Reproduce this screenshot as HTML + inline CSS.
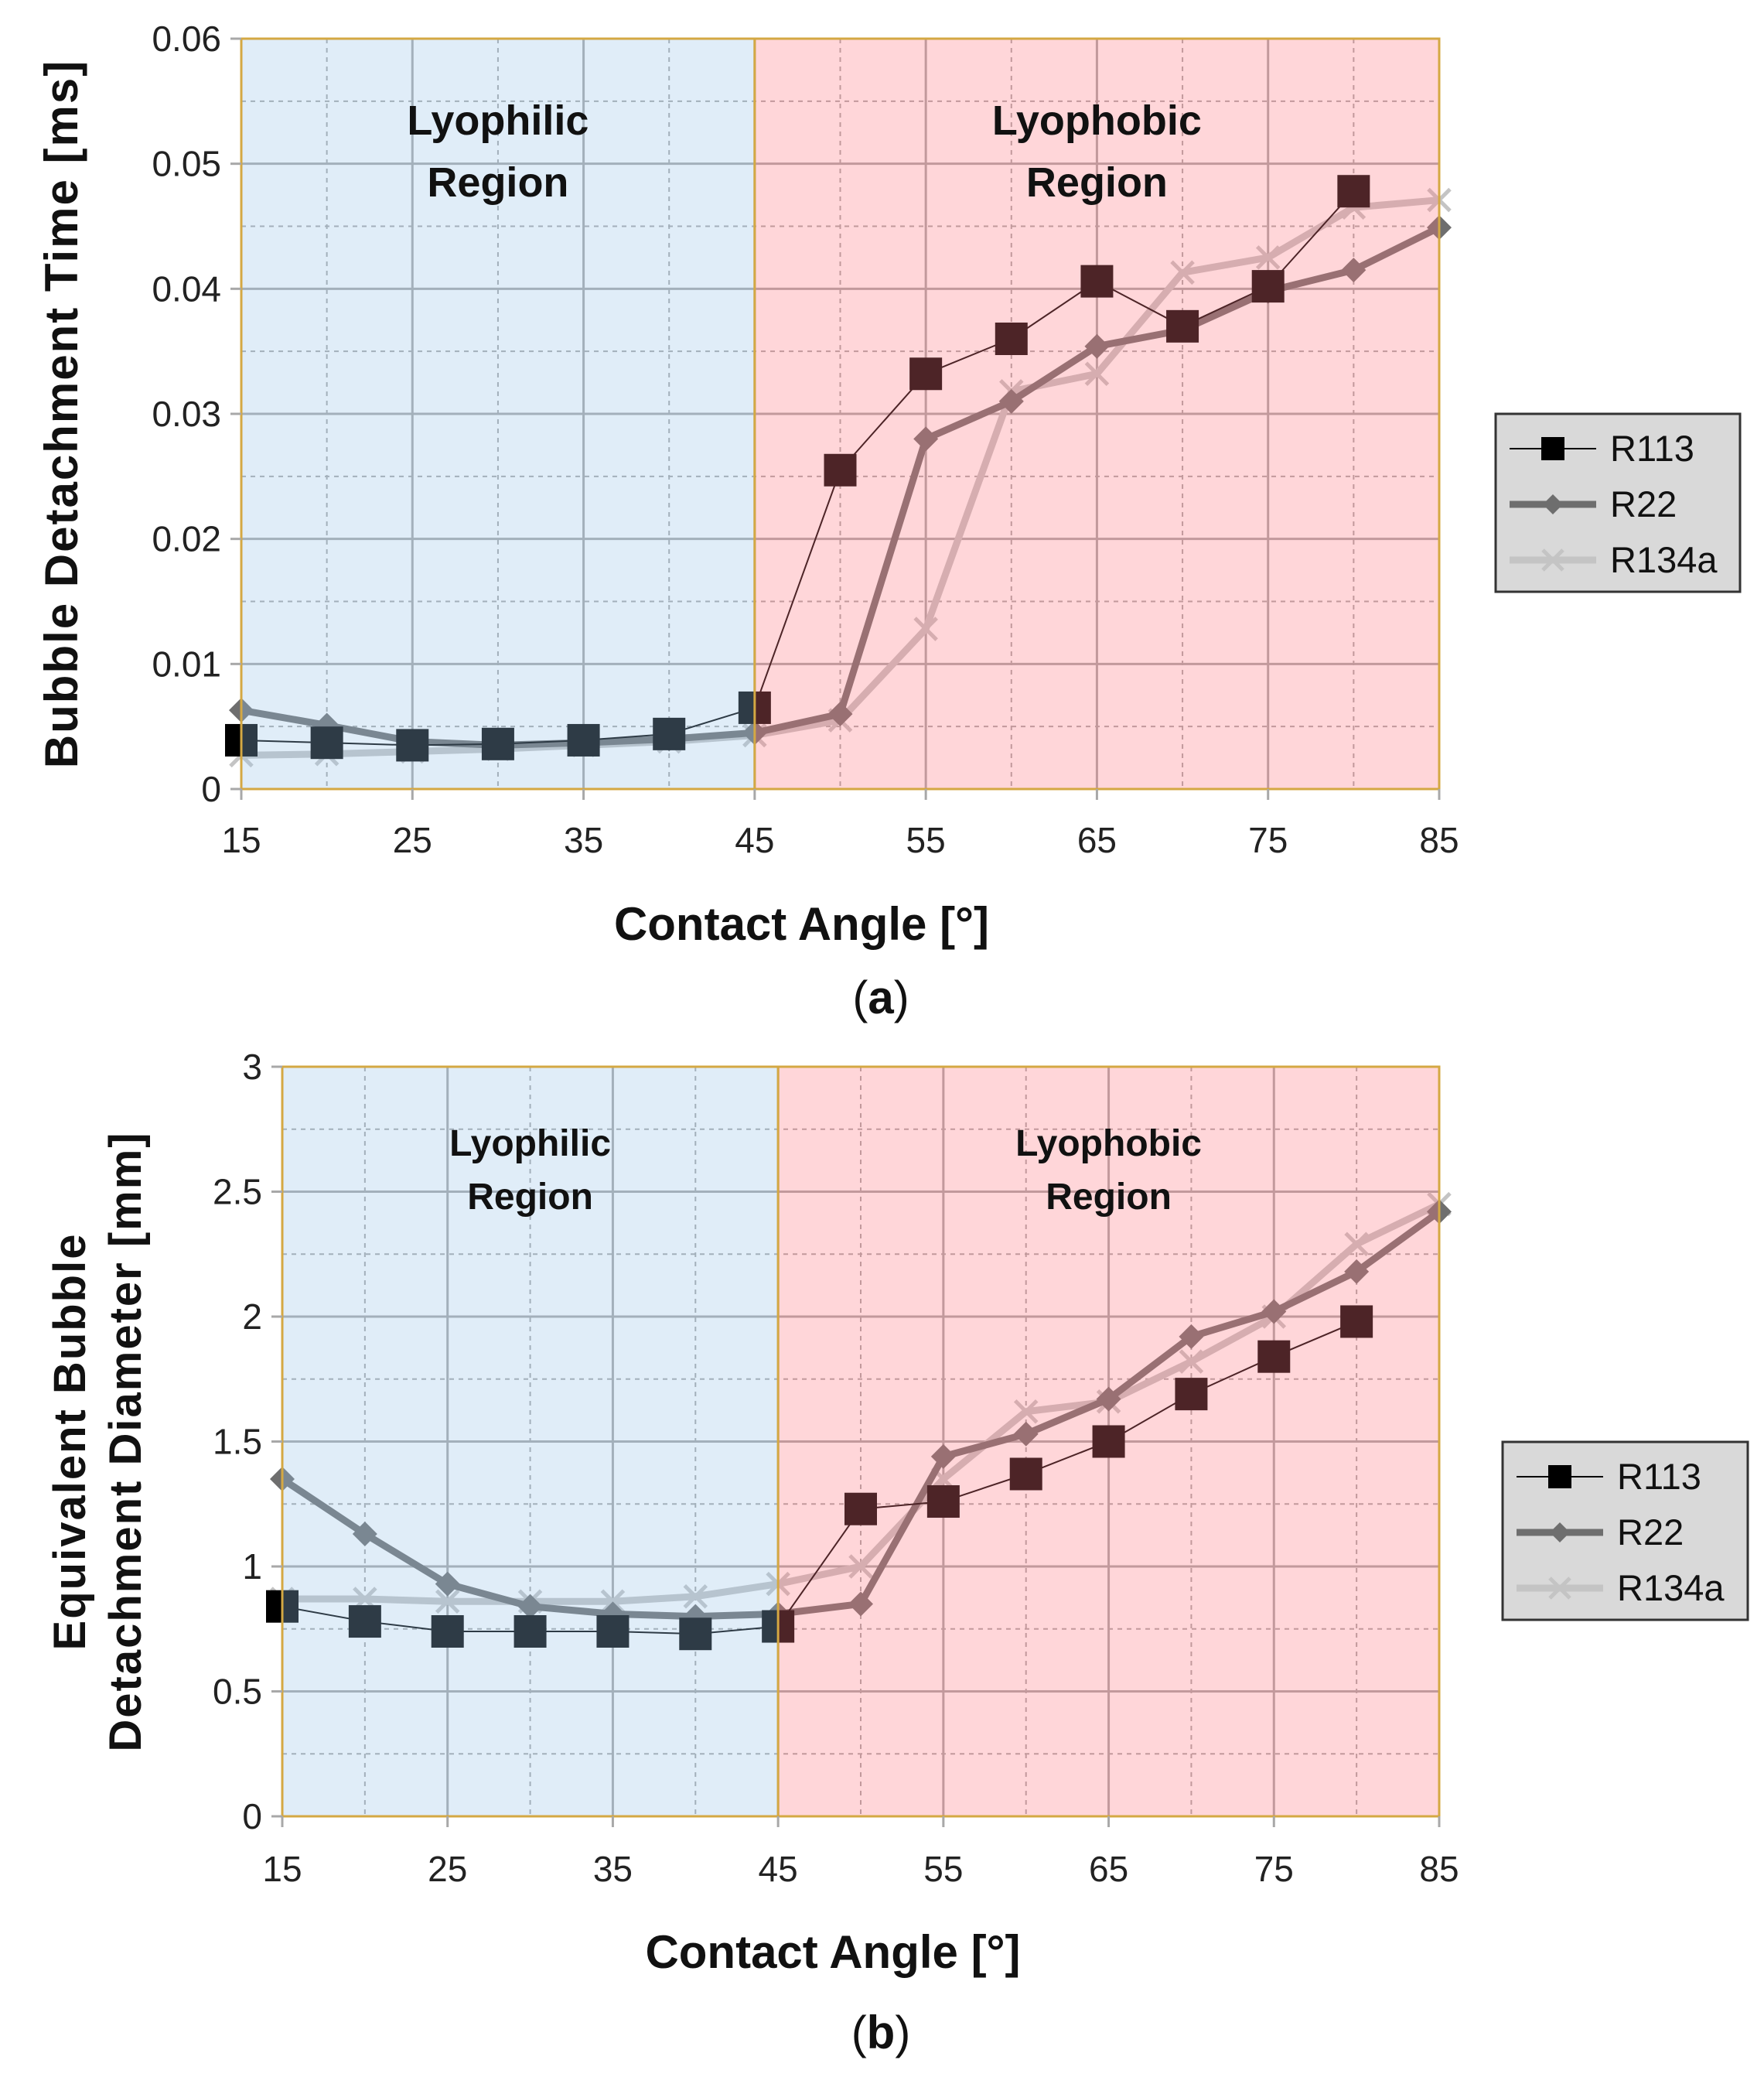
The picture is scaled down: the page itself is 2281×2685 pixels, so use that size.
<!DOCTYPE html>
<html><head><meta charset="utf-8"><style>
body{margin:0;background:#fff}
svg{display:block}
text{font-family:"Liberation Sans",sans-serif}
</style></head><body>
<svg id="fig" width="2281" height="2685" viewBox="0 0 2281 2685" xmlns="http://www.w3.org/2000/svg"></svg>
<script>
const angles=[15,20,25,30,35,40,45,50,55,60,65,70,75,80,85];
const xTicks=[15,25,35,45,55,65,75,85];
const seriesNames=["R113","R22","R134a"];
// chart a: bubble detachment time [ms]
const aR113=[0.0039,0.0037,0.0035,0.0036,0.0039,0.0044,0.0065,0.0255,0.0332,0.0360,0.0406,0.0370,0.0402,0.0478,null];
const aR22=[0.0063,0.0051,0.0038,0.0035,0.0037,0.0040,0.0045,0.0060,0.0280,0.0310,0.0354,0.0367,0.0398,0.0415,0.0449];
const aR134a=[0.0027,0.0028,0.0030,0.0032,0.0035,0.0038,0.0043,0.0055,0.0128,0.0318,0.0332,0.0413,0.0425,0.0465,0.0471];
const aYTicks=[0,0.01,0.02,0.03,0.04,0.05,0.06];
const aYLabels=["0","0.01","0.02","0.03","0.04","0.05","0.06"];
// chart b: equivalent detachment diameter [mm]
const bR113=[0.84,0.78,0.74,0.74,0.74,0.73,0.76,1.23,1.26,1.37,1.50,1.69,1.84,1.98,null];
const bR22=[1.35,1.13,0.93,0.84,0.81,0.80,0.81,0.85,1.44,1.53,1.67,1.92,2.02,2.18,2.42];
const bR134a=[0.87,0.87,0.86,0.86,0.86,0.88,0.93,1.00,1.35,1.62,1.66,1.82,2.00,2.29,2.45];
const bYTicks=[0,0.5,1,1.5,2,2.5,3];
const bYLabels=["0","0.5","1","1.5","2","2.5","3"];

const NS="http://www.w3.org/2000/svg";
const svg=document.getElementById('fig');
function el(tag,attrs,parent,txt){const e=document.createElementNS(NS,tag);for(const k in attrs)e.setAttribute(k,attrs[k]);if(txt!==undefined)e.textContent=txt;(parent||svg).appendChild(e);return e;}

function marker(g,type,x,y,color,s){
  let m;
  if(type==='sq'){m=el('rect',{x:x-s/2,y:y-s/2,width:s,height:s,fill:color},g);}
  else if(type==='di'){m=el('path',{d:`M${x} ${y-s/2}L${x+s/2} ${y}L${x} ${y+s/2}L${x-s/2} ${y}Z`,fill:color},g);}
  else {m=el('path',{d:`M${x-s/2} ${y-s/2}L${x+s/2} ${y+s/2}M${x+s/2} ${y-s/2}L${x-s/2} ${y+s/2}`,stroke:color,'stroke-width':5,fill:'none'},g);}
  return m;
}

function chart(cfg){
  const g=el('g',{});
  
  
  const {L,R,T,B,yMax}=cfg;
  const X=v=>L+(v-15)/70*(R-L);
  const Y=v=>B-v/yMax*(B-T);
  el('rect',{x:L,y:T,width:R-L,height:B-T,fill:'#fff'},g);
  const gg=el('g',{},g);
  
  
  for(let i=0;i<=12;i++){const v=yMax*i/12;const y=Y(v);
    el('line',{x1:L,x2:R,y1:y,y2:y,stroke:'#a8a8a8','stroke-width':i%2?2:3,'stroke-dasharray':i%2?'6 6':''},gg);}
  for(let a=20;a<85;a+=5){const x=X(a);
    el('line',{x1:x,x2:x,y1:T,y2:B,stroke:'#a8a8a8','stroke-width':(a-15)%10?2:3,'stroke-dasharray':(a-15)%10?'6 6':''},gg);}
  const styles=[{c:'#000',w:2,m:'sq',s:42},{c:'#6e6e6e',w:9,m:'di',s:32},{c:'#c4c4c4',w:9,m:'x',s:28}];
  const order=[2,1,0];
  order.forEach(si=>{
    const data=cfg.series[si];const st=styles[si];
    const sg=el('g',{},g);
    
    
    let d='';
    data.forEach((v,i)=>{if(v===null)return;d+=(d?'L':'M')+X(angles[i])+' '+Y(v);});
    el('path',{d,stroke:st.c,'stroke-width':st.w,fill:'none','stroke-linejoin':'round'},sg);
    data.forEach((v,i)=>{if(v===null)return;const m=marker(sg,st.m,X(angles[i]),Y(v),st.c,st.s);
      
      });
  });
  const r1=el('rect',{x:L,y:T,width:X(45)-L,height:B-T,fill:'rgba(152,195,232,0.3)'},g);
  
  
  const r2=el('rect',{x:X(45),y:T,width:R-X(45),height:B-T,fill:'rgba(255,118,128,0.3)'},g);
  
  
  el('rect',{x:L,y:T,width:R-L,height:B-T,fill:'none',stroke:'#d4a843','stroke-width':3},g);
  el('line',{x1:X(45),x2:X(45),y1:T,y2:B,stroke:'#d4a843','stroke-width':3},g);
  const fs=cfg.regFs;
  [[ (L+X(45))/2,'Lyophilic','lyophilic-label'],[(X(45)+R)/2,'Lyophobic','lyophobic-label']].forEach(([cx,w,n])=>{
    const t=el('text',{x:cx,y:cfg.regY,'font-size':fs,'font-weight':'bold','text-anchor':'middle',fill:'#111'},g);
    
    
    el('tspan',{x:cx},t,w);el('tspan',{x:cx,dy:cfg.regDy},t,'Region');
  });
  cfg.yTicks.forEach((v,i)=>{const y=Y(v);
    el('line',{x1:L-14,x2:L,y1:y,y2:y,stroke:'#a8a8a8','stroke-width':3},g);
    const t=el('text',{x:L-26,y:y+16,'font-size':46,'text-anchor':'end',fill:'#222'},g,cfg.yLabels[i]);
    
    });
  xTicks.forEach(v=>{const x=X(v);
    el('line',{x1:x,x2:x,y1:B,y2:B+14,stroke:'#a8a8a8','stroke-width':3},g);
    const t=el('text',{x:x,y:cfg.xLabY,'font-size':46,'text-anchor':'middle',fill:'#222'},g,String(v));
    
    });
  const xt=el('text',{x:(L+R)/2+cfg.xtOff,y:cfg.xtY,'font-size':60,'font-weight':'bold','text-anchor':'middle',fill:'#111'},g,'Contact Angle [°]');
  
  
  const cy=(T+B)/2;
  cfg.yTitle.forEach((line,i)=>{
    const x=cfg.ytX[i];
    const yt=el('text',{x:x,y:cy,'font-size':cfg.ytFs,'font-weight':'bold','text-anchor':'middle',fill:'#111','letter-spacing':cfg.ytLs,transform:`rotate(-90 ${x} ${cy})`},g,line);
    
    
  });
  const cap=el('text',{x:1139,y:cfg.capY,'font-size':60,'text-anchor':'middle',fill:'#111','font-family':'Liberation Serif, serif'},g);
  
  
  el('tspan',{},cap,'(');el('tspan',{'font-weight':'bold'},cap,cfg.cap);el('tspan',{},cap,')');
  const lg=el('g',{},g);
  
  
  const [lx,ly,lw,lh]=cfg.legend;
  el('rect',{x:lx,y:ly,width:lw,height:lh,fill:'#d9d9d9',stroke:'#333','stroke-width':3},lg);
  seriesNames.forEach((n,i)=>{
    const st=styles[i];const yy=ly+45+i*72;
    const eg=el('g',{},lg);
    
    
    el('line',{x1:lx+18,x2:lx+130,y1:yy,y2:yy,stroke:st.c,'stroke-width':st.w},eg);
    marker(eg,st.m,lx+74,yy,st.c,st.m==='sq'?30:26);
    el('text',{x:lx+148,y:yy+16,'font-size':47,fill:'#111'},eg,n);
  });
}

chart({name:'chart-a-detachment-time',L:312,R:1861,T:50,B:1020,yMax:0.06,series:[aR113,aR22,aR134a],
  yTicks:aYTicks,yLabels:aYLabels,regY:174,regDy:80,regFs:54,xLabY:1102,xtY:1215,xtOff:-50,
  yTitle:['Bubble Detachment Time [ms]'],ytFs:60,ytLs:2,ytX:[100],capY:1310,cap:'a',legend:[1934,535,316,230]});
chart({name:'chart-b-detachment-diameter',L:365,R:1861,T:1379,B:2348,yMax:3,series:[bR113,bR22,bR134a],
  yTicks:bYTicks,yLabels:bYLabels,regY:1494,regDy:69,regFs:48,xLabY:2432,xtY:2544,xtOff:-36,
  yTitle:['Equivalent Bubble','Detachment Diameter [mm]'],ytFs:58,ytLs:2,ytX:[110,182],capY:2648,cap:'b',legend:[1943,1864,317,230]});
</script>
</body></html>
